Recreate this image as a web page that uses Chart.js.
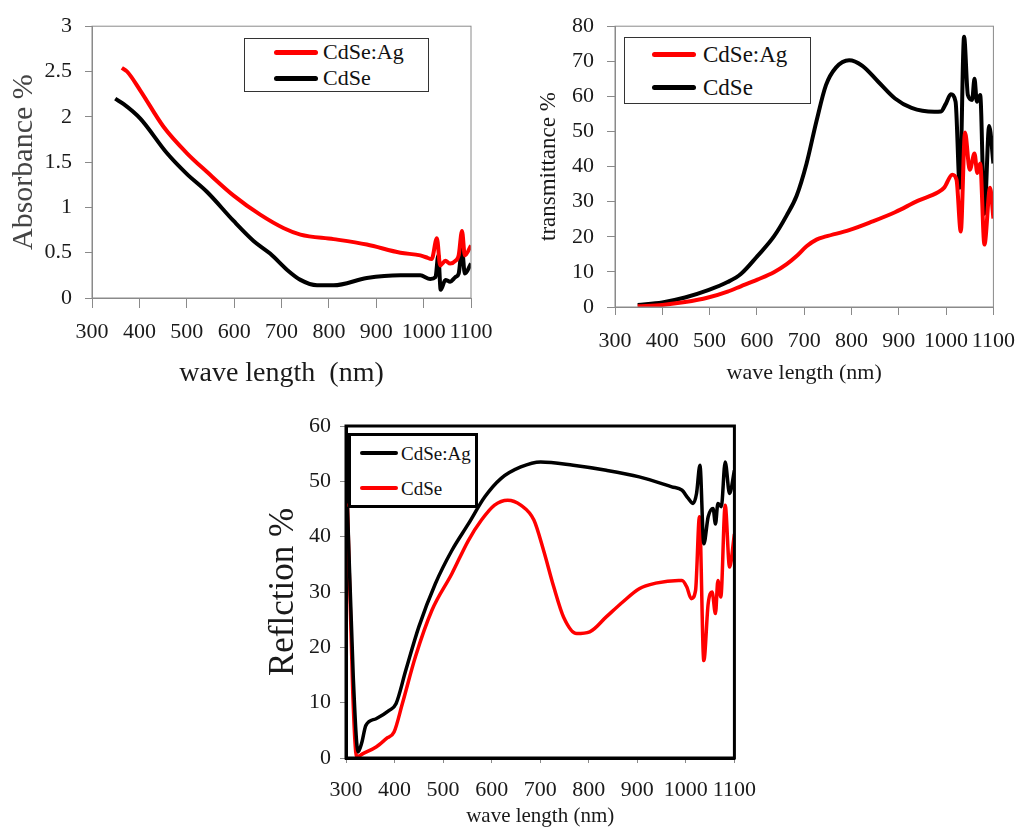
<!DOCTYPE html>
<html>
<head>
<meta charset="utf-8">
<script src="https://cdn.jsdelivr.net/npm/chart.js@4.4.0/dist/chart.umd.min.js"></script>
<style>
  body { margin: 0; background: #fff; }
  #wrap { position: relative; width: 1028px; height: 829px; overflow: hidden; }
  canvas { position: absolute; }
  .legend { position: absolute; background: #fff; font-family: "Liberation Serif", serif; color: #111; box-sizing: border-box; }
  .legend .row { position: absolute; white-space: nowrap; }
  .legend .swatch { position: absolute; }
</style>
</head>
<body>
<div id="wrap">
  <canvas id="absChart" width="510" height="390" style="left:0;top:0"></canvas>
  <canvas id="trChart" width="518" height="390" style="left:510px;top:0"></canvas>
  <canvas id="refChart" width="520" height="429" style="left:250px;top:400px"></canvas>
</div>
<script>
// wavelength axis
const waveTicks = [300, 400, 500, 600, 700, 800, 900, 1000, 1100];

// Absorbance %
const absAgWave = [363, 374, 402, 451, 500, 543, 599, 655, 705, 740, 810, 880, 951, 993, 1005, 1017, 1028, 1035, 1046, 1056, 1067, 1074, 1081, 1087, 1100];
const absAgVals = [2.54, 2.50, 2.29, 1.89, 1.60, 1.39, 1.13, 0.92, 0.77, 0.70, 0.65, 0.59, 0.50, 0.47, 0.45, 0.43, 0.66, 0.36, 0.41, 0.38, 0.41, 0.47, 0.74, 0.47, 0.58];
const absCdWave = [349, 367, 402, 458, 500, 543, 599, 641, 676, 712, 740, 775, 810, 880, 951, 993, 1014, 1025, 1031, 1036, 1046, 1056, 1067, 1074, 1081, 1087, 1100];
const absCdVals = [2.20, 2.14, 1.98, 1.60, 1.37, 1.17, 0.85, 0.63, 0.49, 0.31, 0.20, 0.14, 0.14, 0.22, 0.25, 0.25, 0.21, 0.23, 0.47, 0.09, 0.20, 0.18, 0.23, 0.27, 0.54, 0.27, 0.38];

// transmittance %
const trAgWave = [348, 400, 448, 497, 538, 566, 601, 636, 663, 684, 705, 726, 746, 795, 843, 892, 941, 982, 996, 1013, 1022, 1031, 1040, 1050, 1060, 1066, 1072, 1081, 1093, 1100];
const trAgVals = [0.2, 0.6, 1.4, 2.7, 4.4, 5.9, 7.8, 9.9, 12.2, 14.5, 17.3, 19.2, 20.1, 21.9, 24.3, 27.0, 30.3, 32.6, 34.0, 37.7, 36.3, 21.5, 49.7, 39.1, 43.7, 38.2, 40.9, 17.8, 34.0, 25.2];
const trCdWave = [348, 400, 448, 497, 538, 566, 601, 636, 663, 684, 705, 726, 746, 767, 795, 823, 857, 892, 927, 975, 989, 999, 1010, 1020, 1029, 1038, 1046, 1055, 1060, 1065, 1072, 1081, 1091, 1100];
const trCdVals = [0.6, 1.3, 2.7, 4.8, 7.1, 9.4, 14.5, 20.1, 26.1, 31.7, 40.9, 53.0, 63.2, 68.2, 70.3, 68.7, 64.1, 59.4, 56.7, 55.6, 55.7, 57.8, 60.6, 58.5, 34.0, 77.0, 60.4, 59.0, 65.0, 58.5, 60.4, 26.6, 51.6, 40.9];

// Reflction %
const refAgWave = [303, 315, 325, 332, 341, 362, 389, 403, 423, 450, 484, 518, 552, 586, 619, 660, 701, 768, 836, 904, 971, 992, 1005, 1015, 1022, 1029, 1037, 1046, 1056, 1061, 1066, 1073, 1081, 1090, 1100];
const refAgVals = [45.4, 14.6, 1.1, 2.6, 5.9, 7.1, 8.6, 9.8, 15.8, 23.7, 31.5, 37.5, 42.3, 47.2, 50.5, 52.6, 53.5, 52.9, 52.0, 50.8, 49.0, 48.4, 46.9, 46.0, 47.8, 52.9, 38.7, 43.6, 45.1, 42.3, 46.0, 45.4, 53.5, 47.8, 52.0];
const refCdWave = [303, 314, 322, 335, 362, 383, 399, 416, 443, 477, 518, 552, 579, 606, 633, 660, 687, 707, 728, 748, 775, 802, 836, 870, 904, 938, 985, 992, 1002, 1011, 1020, 1028, 1037, 1046, 1054, 1061, 1066, 1072, 1081, 1090, 1100];
const refCdVals = [46.0, 11.6, 0.2, 0.8, 2.0, 3.5, 4.7, 9.8, 18.3, 26.7, 33.3, 39.3, 43.0, 45.7, 46.6, 45.7, 43.0, 37.5, 30.9, 25.5, 22.5, 22.8, 25.5, 28.2, 30.6, 31.6, 32.1, 32.1, 30.9, 28.8, 30.3, 43.6, 17.6, 27.9, 30.0, 26.1, 32.1, 29.1, 45.7, 34.5, 40.5];

const serif = "'Liberation Serif', 'Times New Roman', serif";

const toPoints = (xs, ys) => xs.map((x, i) => ({ x: x, y: ys[i] }));

// plain numbers, no "1,000" or "3.0"
const plainLabel = (v) => String(Math.round(v * 100) / 100);

// box round the plot area
const framePlugin = {
  id: "frame",
  afterDatasetsDraw(chart, args, opts) {
    const a = chart.chartArea;
    const ctx = chart.ctx;
    ctx.save();
    ctx.strokeStyle = opts.color;
    ctx.lineWidth = opts.width;
    ctx.strokeRect(a.left, a.top, a.right - a.left, a.bottom - a.top);
    ctx.restore();
  },
};

function buildChart(id, datasets, s) {
  return new Chart(document.getElementById(id), {
    type: "line",
    data: { datasets: datasets },
    options: {
      responsive: false,
      animation: false,
      layout: { padding: { top: s.padTop, right: s.padRight, left: 0, bottom: 0 } },
      elements: {
        point: { radius: 0 },
        line: { cubicInterpolationMode: "monotone", borderWidth: s.lineWidth },
      },
      plugins: {
        legend: { display: false },
        tooltip: { enabled: false },
        frame: { color: s.frameColor, width: s.frameWidth },
      },
      scales: {
        x: {
          type: "linear",
          min: 300,
          max: 1100,
          afterFit: (sc) => { sc.height = s.xHeight; },
          afterBuildTicks: (sc) => { sc.ticks = waveTicks.map((v) => ({ value: v })); },
          ticks: { autoSkip: false, maxRotation: 0, padding: s.xTickPad, color: "#1a1a1a", font: { family: serif, size: s.tickSize }, callback: plainLabel },
          grid: { drawOnChartArea: false, tickLength: s.xTickLen, color: s.tickColor },
          border: { color: s.frameColor, width: s.frameWidth },
          title: { display: true, text: s.xTitle, color: "#1a1a1a", font: { family: serif, size: s.xTitleSize }, padding: s.xTitlePad },
        },
        y: {
          min: 0,
          max: s.yMax,
          afterFit: (sc) => { sc.width = s.yWidth; },
          ticks: { stepSize: s.yStep, padding: s.yTickPad, color: "#1a1a1a", font: { family: serif, size: s.tickSize }, callback: plainLabel },
          grid: { drawOnChartArea: false, tickLength: s.yTickLen, color: s.tickColor },
          border: { color: s.frameColor, width: s.frameWidth },
          title: { display: true, text: s.yTitle, color: s.yTitleColor, font: { family: serif, size: s.yTitleSize }, padding: s.yTitlePad },
        },
      },
    },
    plugins: [framePlugin],
  });
}

// html legend drawn from the dataset labels and colours
function addLegend(datasets, box) {
  const div = document.createElement("div");
  div.className = "legend";
  div.style.left = box.left + "px";
  div.style.top = box.top + "px";
  div.style.width = box.width + "px";
  div.style.height = box.height + "px";
  div.style.border = box.border;
  datasets.forEach((ds, i) => {
    const cy = box.rows[i];
    const sw = document.createElement("div");
    sw.className = "swatch";
    sw.style.left = box.lineX + "px";
    sw.style.width = box.lineW + "px";
    sw.style.top = cy - box.lineH / 2 + "px";
    sw.style.height = box.lineH + "px";
    sw.style.background = ds.borderColor;
    sw.style.borderRadius = box.lineH / 2 + "px";
    div.appendChild(sw);
    const txt = document.createElement("div");
    txt.className = "row";
    txt.textContent = ds.label;
    txt.style.left = box.textX + "px";
    txt.style.fontSize = box.fontSize + "px";
    txt.style.lineHeight = box.fontSize + "px";
    txt.style.top = cy - box.fontSize / 2 + "px";
    div.appendChild(txt);
  });
  document.getElementById("wrap").appendChild(div);
}

const absSets = [
  { label: "CdSe:Ag", data: toPoints(absAgWave, absAgVals), borderColor: "#ff0000" },
  { label: "CdSe", data: toPoints(absCdWave, absCdVals), borderColor: "#000000" },
];
buildChart("absChart", absSets, {
  padTop: 21, padRight: 39, yWidth: 92, xHeight: 92, lineWidth: 4,
  frameColor: "#8a8a8a", frameWidth: 1, tickColor: "#8a8a8a",
  tickSize: 22, xTickPad: 11, xTickLen: 10, yTickPad: 13, yTickLen: 7,
  xTitle: "wave length  (nm)", xTitleSize: 28, xTitlePad: { top: 0, bottom: 0 },
  yTitle: "Absorbance %", yTitleSize: 30, yTitleColor: "#444", yTitlePad: { top: 6, bottom: 0 },
  yMax: 3, yStep: 0.5,
});
addLegend(absSets, {
  left: 244, top: 38, width: 185, height: 54, border: "1.5px solid #333",
  rows: [13, 39], lineX: 29, lineW: 44, lineH: 5, textX: 78, fontSize: 22,
});

const trSets = [
  { label: "CdSe:Ag", data: toPoints(trAgWave, trAgVals), borderColor: "#ff0000" },
  { label: "CdSe", data: toPoints(trCdWave, trCdVals), borderColor: "#000000" },
];
buildChart("trChart", trSets, {
  padTop: 19, padRight: 28, yWidth: 105, xHeight: 83, lineWidth: 4,
  frameColor: "#8a8a8a", frameWidth: 1, tickColor: "#8a8a8a",
  tickSize: 22, xTickPad: 13, xTickLen: 8, yTickPad: 13, yTickLen: 8,
  xTitle: "wave length (nm)", xTitleSize: 22, xTitlePad: { top: 0, bottom: 4 },
  yTitle: "transmittance %", yTitleSize: 23, yTitleColor: "#1a1a1a", yTitlePad: { top: 25, bottom: 0 },
  yMax: 80, yStep: 10,
});
addLegend(trSets, {
  left: 624, top: 37, width: 187, height: 67, border: "1.5px solid #333",
  rows: [16, 49], lineX: 27, lineW: 44, lineH: 5, textX: 78, fontSize: 23,
});

const refSets = [
  { label: "CdSe:Ag", data: toPoints(refAgWave, refAgVals), borderColor: "#000000" },
  { label: "CdSe", data: toPoints(refCdWave, refCdVals), borderColor: "#ff0000" },
];
buildChart("refChart", refSets, {
  padTop: 26, padRight: 30, yWidth: 96, xHeight: 71, lineWidth: 3.5,
  frameColor: "#000000", frameWidth: 3, tickColor: "#8a8a8a",
  tickSize: 22, xTickPad: 14, xTickLen: 5, yTickPad: 9, yTickLen: 6,
  xTitle: "wave length (nm)", xTitleSize: 21, xTitlePad: { top: 0, bottom: 0 },
  yTitle: "Reflction %", yTitleSize: 35, yTitleColor: "#1a1a1a", yTitlePad: { top: 13, bottom: 0 },
  yMax: 60, yStep: 10,
});
addLegend(refSets, {
  left: 348, top: 433, width: 130, height: 75, border: "3px solid #000",
  rows: [17, 52], lineX: 9, lineW: 38, lineH: 4, textX: 50, fontSize: 19,
});
</script>
</body>
</html>
